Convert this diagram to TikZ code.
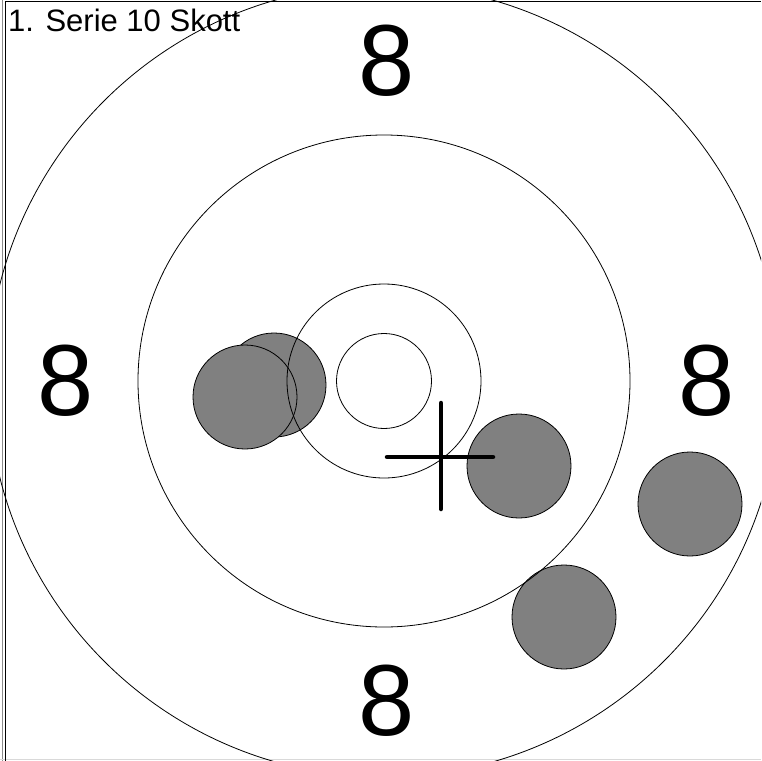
\documentclass[tikz,border=0pt]{standalone}
\usepackage{fontspec}
\setmainfont{Liberation Sans}
\begin{document}
\begin{tikzpicture}[x=1pt,y=-1pt,
  ring/.style={draw=black,line width=0.8pt,circle,inner sep=0pt,fill=none},
  shot/.style={draw=black,line width=0.8pt,circle,inner sep=0pt,fill=gray,minimum size=104pt},
  ringnum/.style={inner sep=0pt,font=\fontsize{101}{101}\selectfont},
  crossline/.style={line width=4.5pt,line cap=round}]
\useasboundingbox (0,0) rectangle (761,761);
\begin{scope}
\clip (0,0) rectangle (761,761);
% frame
\draw[line width=1pt,black!45] (2.5,0) -- (2.5,761);
\draw[line width=1pt,black!15] (0,759.5) -- (761,759.5);
\draw[line width=1.4pt] (5.5,761) -- (5.5,1.5) -- (761,1.5);
% shots
\node[shot] (s1) at (274,385) {};
\node[shot] (s2) at (245,397) {};
\node[shot] (s3) at (519,466) {};
\node[shot] (s4) at (690,504) {};
\node[shot] (s5) at (564,617) {};
% rings
\coordinate (c) at (384,381);
\node[ring,minimum size=792pt] (r8) at (c) {};
\node[ring,minimum size=492pt] (r9) at (c) {};
\node[ring,minimum size=194pt] (r10) at (c) {};
\node[ring,minimum size=95pt] (r11) at (c) {};
% ring numbers
\node[ringnum] (n8t) at (386.5,61) {8};
\node[ringnum] (n8l) at (66,380.5) {8};
\node[ringnum] (n8r) at (706.5,380.5) {8};
\node[ringnum] (n8b) at (386.5,700.5) {8};
% crosshair
\coordinate (ct) at (441,403);
\coordinate (cb) at (441,509);
\coordinate (cl) at (387,457);
\coordinate (cr) at (493,457);
\draw[crossline] (ct) -- (cb);
\draw[crossline] (cl) -- (cr);
% title
\node[inner sep=0pt,anchor=base west,font=\fontsize{31}{31}\selectfont] (title) at (8,31) {1. Serie 10 Skott};
\end{scope}
\end{tikzpicture}
\end{document}
